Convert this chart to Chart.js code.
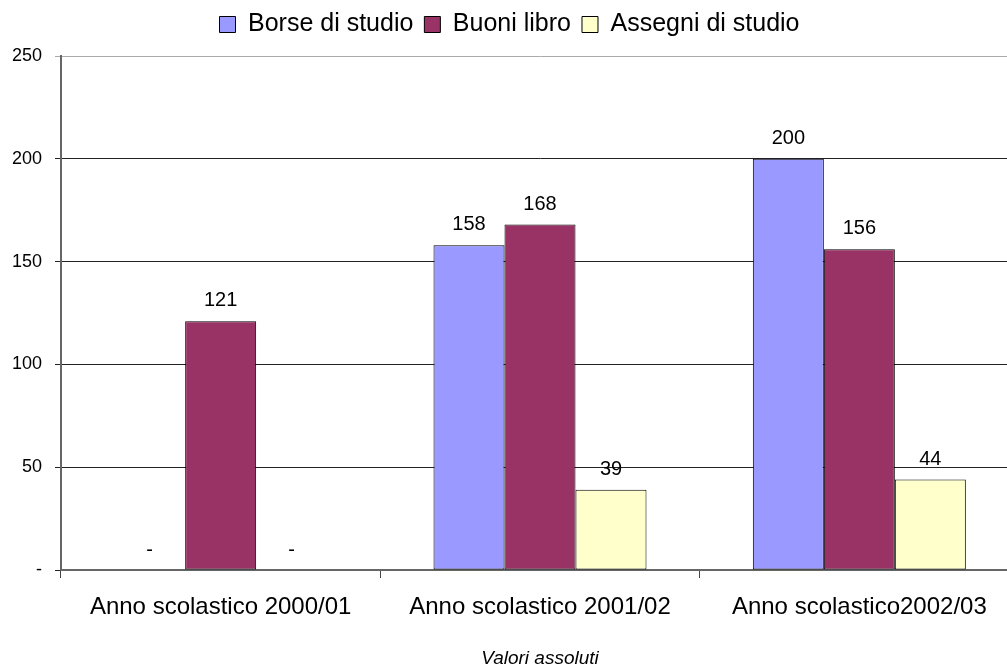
<!DOCTYPE html>
<html><head><meta charset="utf-8">
<script src="https://cdn.jsdelivr.net/npm/chart.js@4.4.1/dist/chart.umd.min.js"></script>
<style>html,body{margin:0;padding:0;background:#fff;overflow:hidden}#wrap{width:1007px;height:668px;overflow:hidden}</style>
</head><body><div id="wrap"><canvas id="c" width="1019" height="668"></canvas></div>
<script>
const categories = ["Anno scolastico 2000/01", "Anno scolastico 2001/02", "Anno scolastico2002/03"];
const borse = [null, 158, 200];
const buoni = [121, 168, 156];
const assegni = [null, 39, 44];
const seriesNames = ["Borse di studio", "Buoni libro", "Assegni di studio"];
const yTicks = [0, 50, 100, 150, 200, 250];
const xTitle = "Valori assoluti";

const FONT = "'Liberation Sans', Arial, sans-serif";

const labelPlugin = {
  id: 'valLabels',
  afterDatasetsDraw(chart) {
    const ctx = chart.ctx;
    ctx.save();
    ctx.font = "20px " + FONT;
    ctx.fillStyle = "#000";
    ctx.textAlign = "center";
    ctx.textBaseline = "alphabetic";
    const ys = chart.scales.y;
    chart.data.datasets.forEach((ds, i) => {
      const meta = chart.getDatasetMeta(i);
      meta.data.forEach((bar, j) => {
        const v = ds.data[j];
        if (v === null || v === undefined) {
          ctx.fillText("-", bar.x, ys.getPixelForValue(0) - 14);
        } else {
          ctx.fillText(String(v), bar.x, bar.y - 15);
        }
      });
    });
    ctx.restore();
  }
};

new Chart(document.getElementById('c'), {
  type: 'bar',
  data: {
    labels: categories,
    datasets: [
      {label: seriesNames[0], data: borse, backgroundColor: '#9999FF', borderColor: '#000', borderWidth: 1, borderSkipped: false},
      {label: seriesNames[1], data: buoni, backgroundColor: '#993366', borderColor: '#000', borderWidth: 1, borderSkipped: false},
      {label: seriesNames[2], data: assegni, backgroundColor: '#FFFFCC', borderColor: '#000', borderWidth: 1, borderSkipped: false}
    ]
  },
  options: {
    responsive: false,
    animation: false,
    layout: {padding: {left: 0, right: 0, top: 1, bottom: 0}},
    datasets: {bar: {categoryPercentage: 0.667, barPercentage: 1.0}},
    plugins: {
      tooltip: {enabled: false},
      legend: {
        position: 'top',
        labels: {
          font: {family: FONT, size: 25},
          color: '#000',
          boxWidth: 16, boxHeight: 16,
          padding: 11,
          generateLabels(chart) {
            return chart.data.datasets.map((ds, i) => ({
              text: ds.label, fillStyle: ds.backgroundColor, strokeStyle: '#000', lineWidth: 1, datasetIndex: i, hidden: false
            }));
          }
        }
      },
      subtitle: {
        display: true, text: ' ', position: 'top', weight: 500,
        font: {family: FONT, size: 9, lineHeight: 1},
        padding: 0
      },
      title: {display: false}
    },
    scales: {
      x: {
        offset: true,
        grid: {display: true, drawOnChartArea: false, offset: true, tickLength: 8, color: '#444', lineWidth: 1},
        border: {display: true, color: '#666', width: 2},
        ticks: {font: {family: FONT, size: 24}, color: '#000', padding: 15, maxRotation: 0},
        title: {
          display: true, text: xTitle, color: '#000',
          font: {family: FONT, size: 19, style: 'italic', weight: 'normal', lineHeight: 1},
          padding: {top: 12, bottom: 0}
        },
        afterFit(s) { s.height = 98; }
      },
      y: {
        min: 0, max: 250,
        afterBuildTicks(s) { s.ticks = yTicks.map(v => ({value: v})); },
        grid: {color: (c) => c.tick && c.tick.value === 250 ? '#aaa' : '#222', lineWidth: 1, tickLength: 6},
        border: {display: true, color: '#666', width: 2},
        ticks: {font: {family: FONT, size: 18}, color: '#000', padding: 13,
          callback: (v) => v === 0 ? '-' : String(v)},
        afterFit(s) { s.width = 61; }
      }
    }
  },
  plugins: [labelPlugin]
});
</script></body></html>
